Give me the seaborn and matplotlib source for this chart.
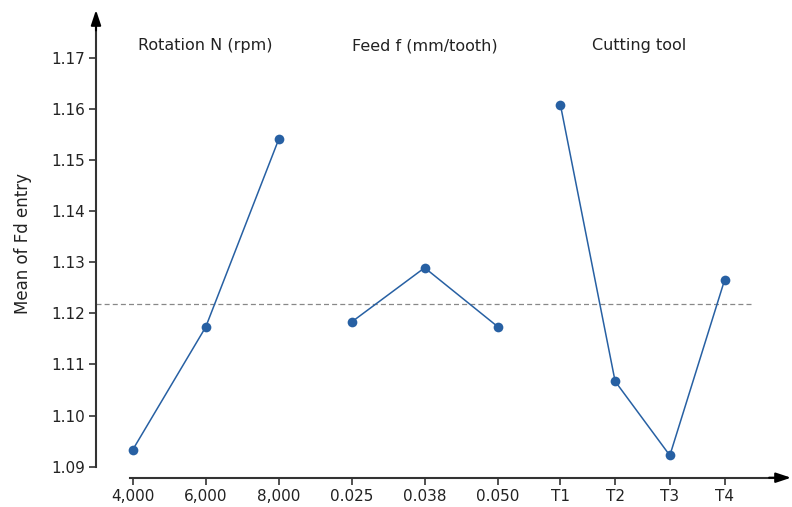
import pandas as pd
import matplotlib.pyplot as plt
import seaborn as sns

# dados
rotacao_labels = ['4,000', '6,000', '8,000']
rotacao_media = [1.0933, 1.1173, 1.1540]

avanco_labels = ['0.025', '0.038', '0.050']
avanco_media = [1.1183, 1.1289, 1.1174]

ferramenta_labels = ['T1', 'T2', 'T3', 'T4']
ferramenta_media = [1.1608, 1.1067, 1.0922, 1.1265]

media_geral = 1.1218

grupos = ['Rotation N (rpm)', 'Feed f (mm/tooth)', 'Cutting tool']

sns.set_style('white')
plt.rcParams['font.family'] = ['DejaVu Sans']

fig = plt.figure(figsize=(7.92, 5.07), dpi=100)
ax = fig.add_axes([96 / 792, (507 - 477.7) / 507, (791 - 96) / 792, (477.7 - 10) / 507])

# posições no eixo x (o grupo das ferramentas é mais apertado)
inicio = [0.0, 3.0, 5.86]
passo = [1.0, 1.0, 0.75]
dados = [(rotacao_labels, rotacao_media), (avanco_labels, avanco_media),
         (ferramenta_labels, ferramenta_media)]

cor = '#2760a3'
ticks, tick_labels = [], []
for i, (labels, medias) in enumerate(dados):
    pos = [inicio[i] + passo[i] * k for k in range(len(labels))]
    df = pd.DataFrame({'pos': pos, 'media': medias})
    sns.lineplot(data=df, x='pos', y='media', ax=ax, color=cor, linewidth=1.1,
                 marker='o', markersize=7, markeredgewidth=0, zorder=3)
    ticks += pos
    tick_labels += labels
    meio = sum(pos) / len(pos)
    if i == 2:
        meio = 0.5 * (pos[1] + pos[2]) - 0.04
    ax.text(meio, 1.1723, grupos[i], ha='center', va='center', fontsize=11.5, color='#222222')

ax.plot([-0.503, 8.48], [media_geral, media_geral], ls='--', color='#888888', lw=0.9,
        dashes=(4, 2.5), zorder=1)

x_min, x_max = -0.503, 9.02
y_min, y_max = 1.08785, 1.1793
ax.set_xlim(x_min, x_max)
ax.set_ylim(y_min, y_max)

ax.set_xticks(ticks)
ax.set_xticklabels(tick_labels)
ax.set_yticks([1.09 + 0.01 * k for k in range(9)])
ax.set_yticklabels([f'{1.09 + 0.01 * k:.2f}' for k in range(9)])
ax.tick_params(axis='both', direction='out', length=5, width=1.2, color='#333333',
               labelsize=11, labelcolor='#222222', pad=3, left=True, bottom=True)
ax.set_xlabel('')
ax.set_ylabel('Mean of Fd entry', fontsize=12, color='#222222', labelpad=14)

for lado in ['top', 'right']:
    ax.spines[lado].set_visible(False)
ax.spines['left'].set_bounds(1.09, y_max - 0.002)
ax.spines['bottom'].set_bounds(-0.04, x_max - 0.15)
for lado in ['left', 'bottom']:
    ax.spines[lado].set_color('#333333')
    ax.spines[lado].set_linewidth(1.5)

# setas nas pontas dos eixos
seta = dict(arrowstyle='-|>,head_length=0.9,head_width=0.3', color='black', lw=1.5,
            shrinkA=0, shrinkB=0)
ax.annotate('', xy=(x_min, y_max), xytext=(x_min, y_max - 0.004), arrowprops=seta,
            annotation_clip=False)
ax.annotate('', xy=(x_max, y_min), xytext=(x_max - 0.3, y_min), arrowprops=seta,
            annotation_clip=False)

plt.savefig('out.png', dpi=100)
